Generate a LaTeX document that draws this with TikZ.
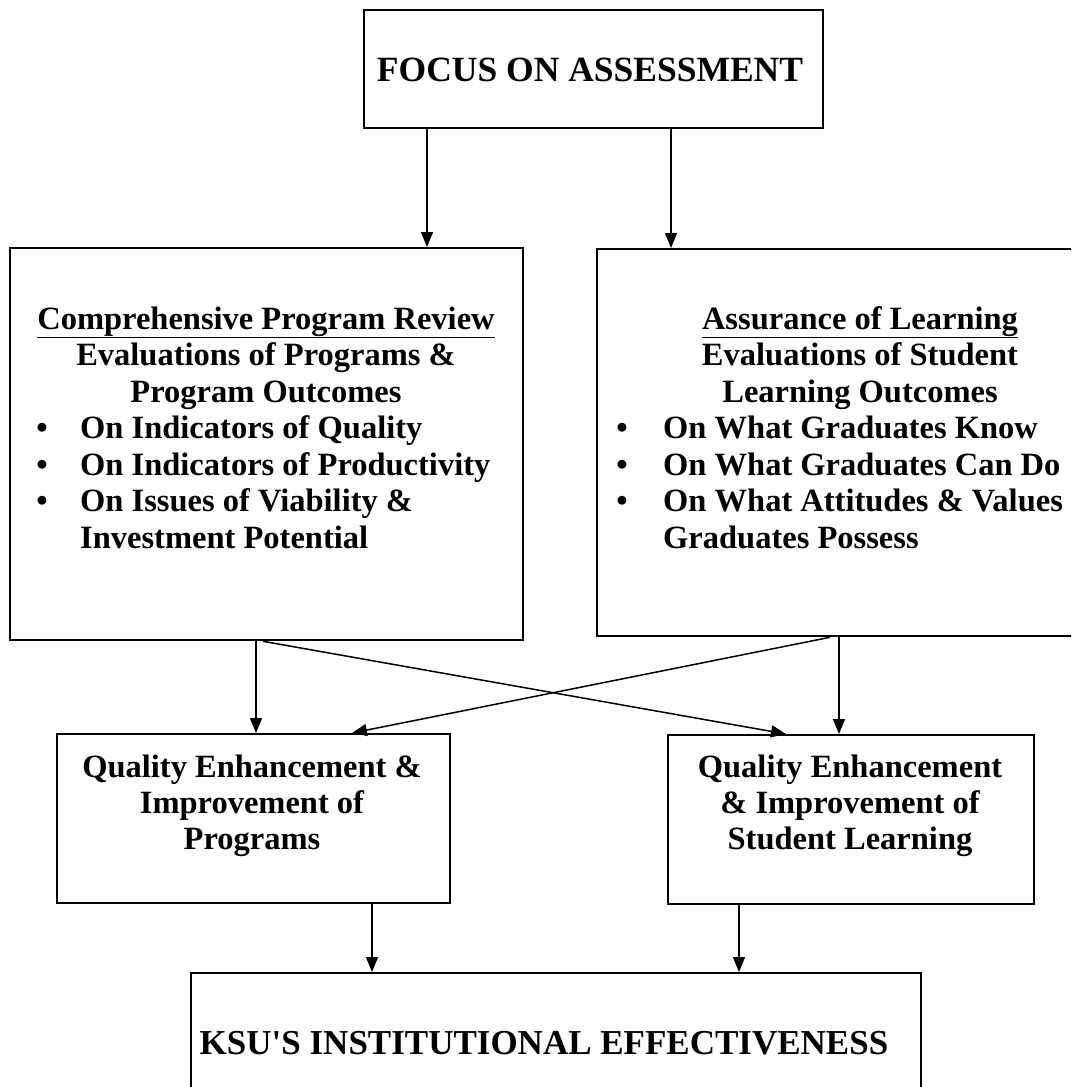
\documentclass[tikz,border=0pt]{standalone}
\usepackage{fontspec}
\setmainfont{Liberation Serif}
\usetikzlibrary{arrows.meta,calc}
\begin{document}
\begin{tikzpicture}[x=1pt,y=-1pt,
  box/.style={draw, line width=2.3pt, inner sep=0pt, anchor=north west},
  conn/.style={line width=1.5pt, -{Triangle[length=15pt,width=12pt]}},
  txt/.style={inner sep=0pt, anchor=base, font=\bfseries\fontsize{32.5}{36}\selectfont},
  ltxt/.style={txt, anchor=base west},
  bigtxt/.style={inner sep=0pt, anchor=base, font=\bfseries\fontsize{35.5}{40}\selectfont},
  bottxt/.style={inner sep=0pt, anchor=base, font=\bfseries\fontsize{35}{42}\selectfont},
]
\path[use as bounding box] (0,0) rectangle (1071,1087);
\clip (0,0) rectangle (1071,1087);

% boxes
\node[box, minimum width=459pt, minimum height=118pt] (focus) at (363,9) {};
\node[box, minimum width=513pt, minimum height=392pt] (left) at (9,247) {};
\node[box, minimum width=494pt, minimum height=387pt] (right) at (596,248) {};
\node[box, minimum width=393pt, minimum height=169pt] (ml) at (56,733) {};
\node[box, minimum width=366pt, minimum height=169pt] (mr) at (667,734) {};
\node[box, minimum width=730pt, minimum height=140pt] (bot) at (190,972) {};

% texts
\node[bigtxt] (tfocus) at (590,81.5) {FOCUS ON ASSESSMENT};

\node[txt] (l1) at (266,329) {\underline{Comprehensive Program Review}};
\node[txt] (l2) at (266,365.5) {Evaluations of Programs \&};
\node[txt] (l3) at (266,402) {Program Outcomes};
\node[txt] (lb1) at (42,438.5) {•};
\node[ltxt] (l4) at (80,438.5) {On Indicators of Quality};
\node[txt] (lb2) at (42,475) {•};
\node[ltxt] (l5) at (80,475) {On Indicators of Productivity};
\node[txt] (lb3) at (42,511.5) {•};
\node[ltxt] (l6) at (80,511.5) {On Issues of Viability \&};
\node[ltxt] (l7) at (80,548) {Investment Potential};

\node[txt] (r1) at (860,329) {\underline{Assurance of Learning}};
\node[txt] (r2) at (860,365.5) {Evaluations of Student};
\node[txt] (r3) at (860,402) {Learning Outcomes};
\node[txt] (rb1) at (622,438.5) {•};
\node[ltxt] (r4) at (663,438.5) {On What Graduates Know};
\node[txt] (rb2) at (622,475) {•};
\node[ltxt] (r5) at (663,475) {On What Graduates Can Do};
\node[txt] (rb3) at (622,511.5) {•};
\node[ltxt] (r6) at (663,511.5) {On What Attitudes \& Values};
\node[ltxt] (r7) at (663,548) {Graduates Possess};

\node[txt] (m1) at (252,777.5) {Quality Enhancement \&};
\node[txt] (m2) at (252,813.5) {Improvement of};
\node[txt] (m3) at (252,849.5) {Programs};

\node[txt] (n1) at (850,777.5) {Quality Enhancement};
\node[txt] (n2) at (850,813.5) {\& Improvement of};
\node[txt] (n3) at (850,849.5) {Student Learning};

\node[bottxt] (tbot) at (544,1054) {KSU\textquotesingle S INSTITUTIONAL EFFECTIVENESS};

% connectors
\draw[conn] ($(focus.south west)+(64,0)$) -- ($(left.north west)+(418,0)$);
\draw[conn] ($(focus.south west)+(308,0)$) -- ($(right.north west)+(75,0)$);
\draw[conn] ($(left.south west)+(247,0)$) -- ($(ml.north west)+(200,0)$);
\draw[conn] ($(right.south west)+(243,0)$) -- ($(mr.north west)+(172,0)$);
\draw[conn] ($(left.south west)+(254,0)$) -- ($(mr.north west)+(119,0)$);
\draw[conn] ($(right.south west)+(234,0)$) -- ($(ml.north west)+(296,0)$);
\draw[conn] ($(ml.south west)+(316,0)$) -- ($(bot.north west)+(182,0)$);
\draw[conn] ($(mr.south west)+(72,0)$) -- ($(bot.north west)+(549,0)$);
\end{tikzpicture}
\end{document}
